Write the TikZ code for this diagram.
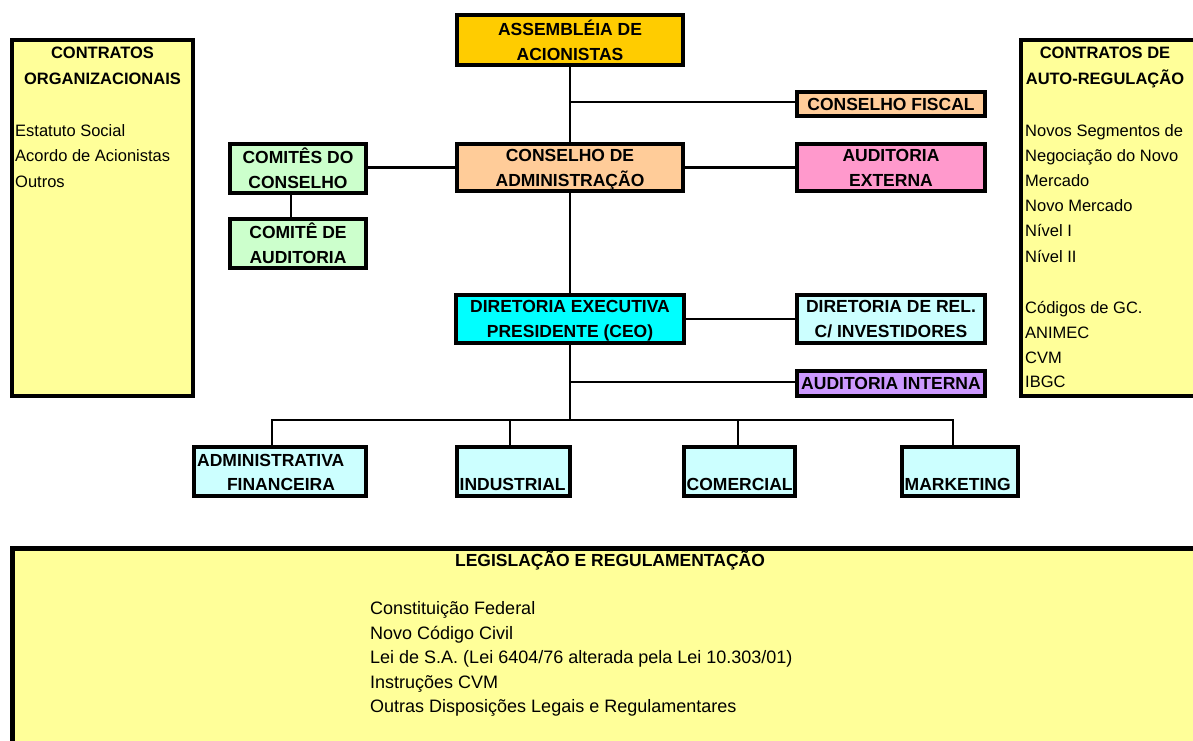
\documentclass[tikz,border=0pt]{standalone}
\usepackage{fontspec}
\setmainfont{Liberation Sans}
\definecolor{panel}{HTML}{FFFF99}
\definecolor{gold}{HTML}{FFCC00}
\definecolor{peach}{HTML}{FFCC99}
\definecolor{pinkx}{HTML}{FF99CC}
\definecolor{mint}{HTML}{CCFFCC}
\definecolor{aqua}{HTML}{00FFFF}
\definecolor{paleaqua}{HTML}{CCFFFF}
\definecolor{lilac}{HTML}{CC99FF}
\begin{document}
\begin{tikzpicture}[x=1pt,y=-1pt,
  orgbox/.style={draw=black,line width=4pt,inner sep=0pt,align=center,text depth=0pt,
    font=\bfseries\fontsize{17.5}{25}\selectfont},
  conn/.style={draw=black,line width=2.3pt},
  paneltitle/.style={anchor=base,inner sep=0pt,font=\bfseries\fontsize{16.5}{20}\selectfont},
  item/.style={anchor=base west,inner sep=0pt,font=\fontsize{16.5}{20}\selectfont},
  bitem/.style={anchor=base west,inner sep=0pt,font=\fontsize{18}{22}\selectfont},
  btext/.style={inner sep=0pt,font=\bfseries\fontsize{17.5}{25}\selectfont}]
\useasboundingbox (0,0) rectangle (1193,740);
\begin{scope}
\clip (0,0) rectangle (1193,740);
% side and bottom panels
\node[draw=black,line width=4pt,fill=panel,minimum width=181pt,minimum height=356pt,inner sep=0pt] (lpanel) at (102.5,218) {};
\draw[line width=4pt,fill=panel] (1021,40) rectangle (1210,396);
\coordinate (rpanel) at (1105,218);
\draw[line width=5pt,fill=panel] (12.5,548.5) rectangle (1215,770);
\coordinate (bpanel) at (610,650);
\end{scope}

% left panel texts
\node[paneltitle] (lt1) at (102.5,58) {CONTRATOS};
\node[paneltitle] (lt2) at (102.5,84) {ORGANIZACIONAIS};
\node[item] (l1) at (15,136) {Estatuto Social};
\node[item] (l2) at (15,161.5) {Acordo de Acionistas};
\node[item] (l3) at (15,187) {Outros};

% right panel texts
\node[paneltitle] (rt1) at (1105,58) {CONTRATOS DE};
\node[paneltitle] (rt2) at (1105,84) {AUTO-REGULAÇÃO};
\node[item] (r1) at (1025,136) {Novos Segmentos de};
\node[item] (r2) at (1025,161.2) {Negociação do Novo};
\node[item] (r3) at (1025,186.4) {Mercado};
\node[item] (r4) at (1025,211.6) {Novo Mercado};
\node[item] (r5) at (1025,236.8) {Nível I};
\node[item] (r6) at (1025,262) {Nível II};
\node[item] (r7) at (1025,313.5) {Códigos de GC.};
\node[item] (r8) at (1025,338.3) {ANIMEC};
\node[item] (r9) at (1025,363) {CVM};
\node[item] (r10) at (1025,387.8) {IBGC};

% bottom panel texts
\node[anchor=base,inner sep=0pt,font=\bfseries\fontsize{17.5}{22}\selectfont] (bt) at (610,566.5) {LEGISLAÇÃO E REGULAMENTAÇÃO};
\node[bitem] (b1) at (370,614.5) {Constituição Federal};
\node[bitem] (b2) at (370,639) {Novo Código Civil};
\node[bitem] (b3) at (370,663.5) {Lei de S.A. (Lei 6404/76 alterada pela Lei 10.303/01)};
\node[bitem] (b4) at (370,688) {Instruções CVM};
\node[bitem] (b5) at (370,712.5) {Outras Disposições Legais e Regulamentares};

% org boxes
\node[orgbox,fill=gold,minimum width=226pt,minimum height=50pt] (assem) at (570,40) {ASSEMBLÉIA DE\\ACIONISTAS};
\node[orgbox,fill=peach,minimum width=188pt,minimum height=24pt] (cfis) at (891,104) {CONSELHO FISCAL};
\node[orgbox,fill=peach,minimum width=226pt,minimum height=47pt] (cadm) at (570,167.5) {CONSELHO DE\\ADMINISTRAÇÃO};
\node[orgbox,fill=pinkx,minimum width=188pt,minimum height=47pt] (aext) at (891,167.5) {AUDITORIA\\EXTERNA};
\node[orgbox,fill=mint,minimum width=136pt,minimum height=49pt] (comit) at (298,168.5) {COMITÊS DO\\CONSELHO};
\node[orgbox,fill=mint,minimum width=136pt,minimum height=49pt] (caud) at (298,243.5) {COMITÊ DE\\AUDITORIA};
\node[orgbox,fill=aqua,minimum width=228pt,minimum height=48pt] (dexe) at (570,319) {DIRETORIA EXECUTIVA\\PRESIDENTE (CEO)};
\node[orgbox,fill=paleaqua,minimum width=188pt,minimum height=48pt] (drel) at (891,319) {DIRETORIA DE REL.\\C/ INVESTIDORES};
\node[orgbox,fill=lilac,minimum width=188pt,minimum height=25pt] (aint) at (891,383.5) {AUDITORIA INTERNA};
\node[orgbox,fill=paleaqua,minimum width=172pt,minimum height=49pt] (adm) at (280,471.5) {};
\node[orgbox,fill=paleaqua,minimum width=113pt,minimum height=49pt] (ind) at (513.5,471.5) {};
\node[orgbox,fill=paleaqua,minimum width=111pt,minimum height=49pt] (com) at (739.5,471.5) {};
\node[orgbox,fill=paleaqua,minimum width=116pt,minimum height=49pt] (mkt) at (960,471.5) {};
\node[btext,anchor=base west] (admt1) at (197,466) {ADMINISTRATIVA};
\node[btext,anchor=base] (admt2) at (281,490) {FINANCEIRA};
\node[btext,anchor=base west] (indt) at (459.5,490) {INDUSTRIAL};
\node[btext,anchor=base west] (comt) at (686.5,490) {COMERCIAL};
\node[btext,anchor=base west] (mktt) at (904.5,490) {MARKETING};

% connectors
\coordinate (j1) at (570,102);
\coordinate (j2) at (570,382);
\coordinate (bus) at (570,420);
\draw[conn] (assem.south) -- (cadm.north);
\draw[conn] (j1) -- (j1 -| cfis.west);
\draw[conn] (comit.east |- cadm.west) -- (cadm.west);
\draw[conn] (cadm.east) -- (aext.west);
\draw[conn] (291,194) -- (291,219);
\draw[conn] (cadm.south) -- (dexe.north);
\draw[conn] (dexe.east) -- (drel.west);
\draw[conn] (dexe.south) -- (bus);
\draw[conn] (j2) -- (j2 -| aint.west);
\draw[conn] (272,447) -- (272,420) -- (953,420) -- (953,447);
\draw[conn] (510,420) -- (510,447);
\draw[conn] (738,420) -- (738,447);
\end{tikzpicture}
\end{document}
